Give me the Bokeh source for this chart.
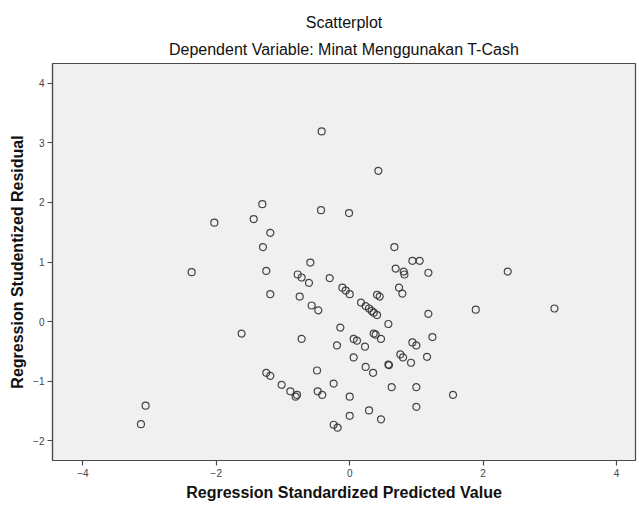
from bokeh.plotting import figure
from bokeh.models import Range1d, Title, FixedTicker, ColumnDataSource
from bokeh.embed import file_html
from bokeh.resources import INLINE

# Regression Standardized Predicted Value
pred = [-3.13, -3.06, -2.37, -2.03, -1.62, -1.44, -1.31, -1.19, -1.30, -1.25,
        -1.19, -1.25, -1.19, -1.02, -0.89, -0.81, -0.79, -0.78, -0.72, -0.61,
        -0.59, -0.75, -0.57, -0.47, -0.72, -0.49, -0.48, -0.41, -0.43, -0.42,
        -0.30, -0.24, -0.24, -0.18, -0.19, -0.14, -0.11, -0.06, 0.00, -0.01,
        0.00, 0.00, 0.06, 0.11, 0.06, 0.17, 0.24, 0.29, 0.33, 0.36,
        0.41, 0.23, 0.24, 0.29, 0.35, 0.36, 0.39, 0.41, 0.45, 0.43,
        0.47, 0.47, 0.58, 0.58, 0.59, 0.63, 0.67, 0.69, 0.74, 0.79,
        0.76, 0.80, 0.81, 0.82, 0.92, 0.94, 1.00, 0.94, 1.05, 1.00,
        1.00, 1.16, 1.18, 1.18, 1.24, 1.55, 1.89, 2.37, 3.07]

# Regression Studentized Residual
resid = [-1.72, -1.41, 0.83, 1.66, -0.20, 1.72, 1.97, 1.49, 1.25, 0.85,
         0.46, -0.86, -0.91, -1.06, -1.17, -1.26, -1.23, 0.79, 0.74, 0.65,
         0.99, 0.42, 0.27, 0.19, -0.29, -0.82, -1.17, -1.23, 1.87, 3.19,
         0.73, -1.04, -1.73, -1.78, -0.40, -0.10, 0.57, 0.52, 0.46, 1.82,
         -1.26, -1.58, -0.29, -0.32, -0.60, 0.32, 0.26, 0.22, 0.18, 0.15,
         0.11, -0.42, -0.76, -1.49, -0.86, -0.20, -0.22, 0.45, 0.42, 2.53,
         -0.29, -1.64, -0.04, -0.72, -0.73, -1.10, 1.25, 0.89, 0.57, 0.47,
         -0.55, -0.60, 0.84, 0.79, -0.69, -0.35, -0.40, 1.02, 1.02, -1.10,
         -1.43, -0.59, 0.82, 0.13, -0.26, -1.23, 0.20, 0.84, 0.22]

x_ticks = [-4, -2, 0, 2, 4]
y_ticks = [-2, -1, 0, 1, 2, 3, 4]

title_text = "Scatterplot"
subtitle_text = "Dependent Variable: Minat Menggunakan T-Cash"
x_label = "Regression Standardized Predicted Value"
y_label = "Regression Studentized Residual"

FONT = "Liberation Sans"

p = figure(width=639, height=509, output_backend="svg", toolbar_location=None,
           x_range=Range1d(-4.456, 4.285), y_range=Range1d(-2.33, 4.33),
           min_border_left=52, min_border_right=4, min_border_top=63, min_border_bottom=49)

p.background_fill_color = "#f0f0f0"
p.border_fill_color = "white"
p.outline_line_color = "#4a4a4a"
p.outline_line_width = 1.2
p.xgrid.visible = False
p.ygrid.visible = False

# titles (added Title sits closer to the plot)
p.title.text = title_text
p.title.align = "center"
p.title.text_font = FONT
p.title.text_font_size = "16px"
p.title.text_font_style = "normal"
p.title.text_color = "#111111"
p.title.standoff = 4
t2 = Title(text=subtitle_text, align="center", text_font=FONT, text_font_size="16px",
           text_font_style="normal", text_color="#111111", standoff=12)
p.add_layout(t2, "above")

for ax, ticks, lab in ((p.xaxis[0], x_ticks, x_label), (p.yaxis[0], y_ticks, y_label)):
    ax.ticker = FixedTicker(ticks=ticks)
    ax.minor_tick_line_color = None
    ax.major_tick_in = 0
    ax.major_tick_out = 5
    ax.major_tick_line_color = "#4a4a4a"
    ax.major_tick_line_width = 1.2
    ax.axis_line_color = "#4a4a4a"
    ax.axis_line_width = 1.2
    ax.major_label_text_font = FONT
    ax.major_label_text_font_size = "10px"
    ax.major_label_text_color = "#444444"
    ax.major_label_standoff = 3
    ax.axis_label = lab
    ax.axis_label_text_font = FONT
    ax.axis_label_text_font_size = "16px"
    ax.axis_label_text_font_style = "bold"
    ax.axis_label_text_color = "#111111"
    ax.axis_label_standoff = 4

src = ColumnDataSource(data=dict(x=pred, y=resid))
p.scatter("x", "y", source=src, marker="circle", size=7, fill_color=None,
          line_color="#333333", line_width=1.2, line_alpha=0.9)

open("out.html", "w").write(file_html(p, INLINE))
